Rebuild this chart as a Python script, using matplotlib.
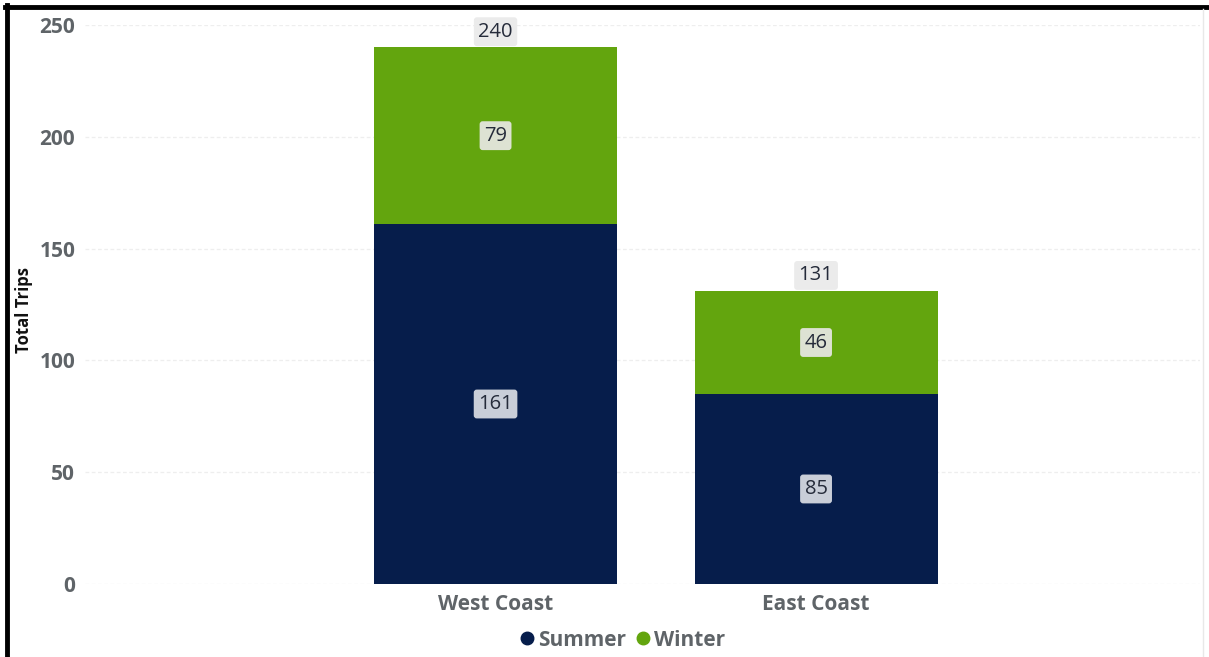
import matplotlib
matplotlib.use("Agg")
import matplotlib.pyplot as plt
from matplotlib.lines import Line2D

# Trips per region, split by season
regions = ["West Coast", "East Coast"]
summer = [161, 85]
winter = [79, 46]
totals = [240, 131]

navy = "#061d4b"
green = "#63a50e"
grey_text = "#5f6468"

plt.rcParams["font.family"] = ["Open Sans", "DejaVu Sans"]

fig = plt.figure(figsize=(12.09, 6.57), dpi=100)
ax = fig.add_axes([85 / 1209, 73 / 657, 1115 / 1209, 559 / 657])

x = range(len(regions))
width = 0.758
ax.bar(x, summer, width, color=navy, zorder=2)
ax.bar(x, winter, width, bottom=summer, color=green, zorder=2)

label_font = dict(fontsize=14.5, color="#252b3a", ha="center", va="center", zorder=5)
for i in x:
    ax.text(i, summer[i] / 2, str(summer[i]),
            bbox=dict(boxstyle="round,pad=0.22,rounding_size=0.15", fc="#c9ced8", ec="none"),
            **label_font)
    ax.text(i, summer[i] + winter[i] / 2, str(winter[i]),
            bbox=dict(boxstyle="round,pad=0.22,rounding_size=0.15", fc="#dde2d3", ec="none"),
            **label_font)
    ax.text(i, totals[i] + 7.0, str(totals[i]),
            bbox=dict(boxstyle="round,pad=0.22,rounding_size=0.15", fc="#ebebeb", ec="none"),
            **label_font)

ax.set_xlim(-1.281, 2.198)
ax.set_ylim(0, 250)
ax.set_yticks(range(0, 251, 50))
ax.set_xticks(list(x))
ax.set_xticklabels(regions)
ax.tick_params(length=0, labelsize=15, labelcolor=grey_text)
ax.tick_params(axis="y", pad=7)
ax.tick_params(axis="x", pad=7)
for lbl in ax.get_xticklabels() + ax.get_yticklabels():
    lbl.set_fontweight("bold")
ax.grid(axis="y", color="#eeeeee", linewidth=0.9, linestyle=(0, (3, 2)), zorder=0)
for s in ax.spines.values():
    s.set_visible(False)

ax.set_ylabel("Total Trips", fontsize=12, fontweight="bold", color="#111111")
ax.yaxis.set_label_coords(-0.0466, 0.49)

handles = [
    Line2D([], [], marker="o", linestyle="none", markersize=9, color=navy, label="Summer"),
    Line2D([], [], marker="o", linestyle="none", markersize=9, color=green, label="Winter"),
]
leg = fig.legend(handles=handles, loc="center", bbox_to_anchor=(622 / 1209, 1 - 640 / 657),
                 ncol=2, frameon=False, handlelength=0.8, handletextpad=0.1,
                 columnspacing=0.45, prop=dict(size=15, weight="bold"))
for t in leg.get_texts():
    t.set_color(grey_text)

# frame lines along the top and left edges
fig.add_artist(Line2D([5 / 1209, 1], [1 - 7 / 657, 1 - 7 / 657], color="black", linewidth=3.5))
fig.add_artist(Line2D([7 / 1209, 7 / 1209], [0, 1 - 5 / 657], color="black", linewidth=3.5))
fig.add_artist(Line2D([1203 / 1209, 1203 / 1209], [0, 1 - 9 / 657], color="#e8e8e8", linewidth=1))

fig.savefig("out.png", dpi=100)
